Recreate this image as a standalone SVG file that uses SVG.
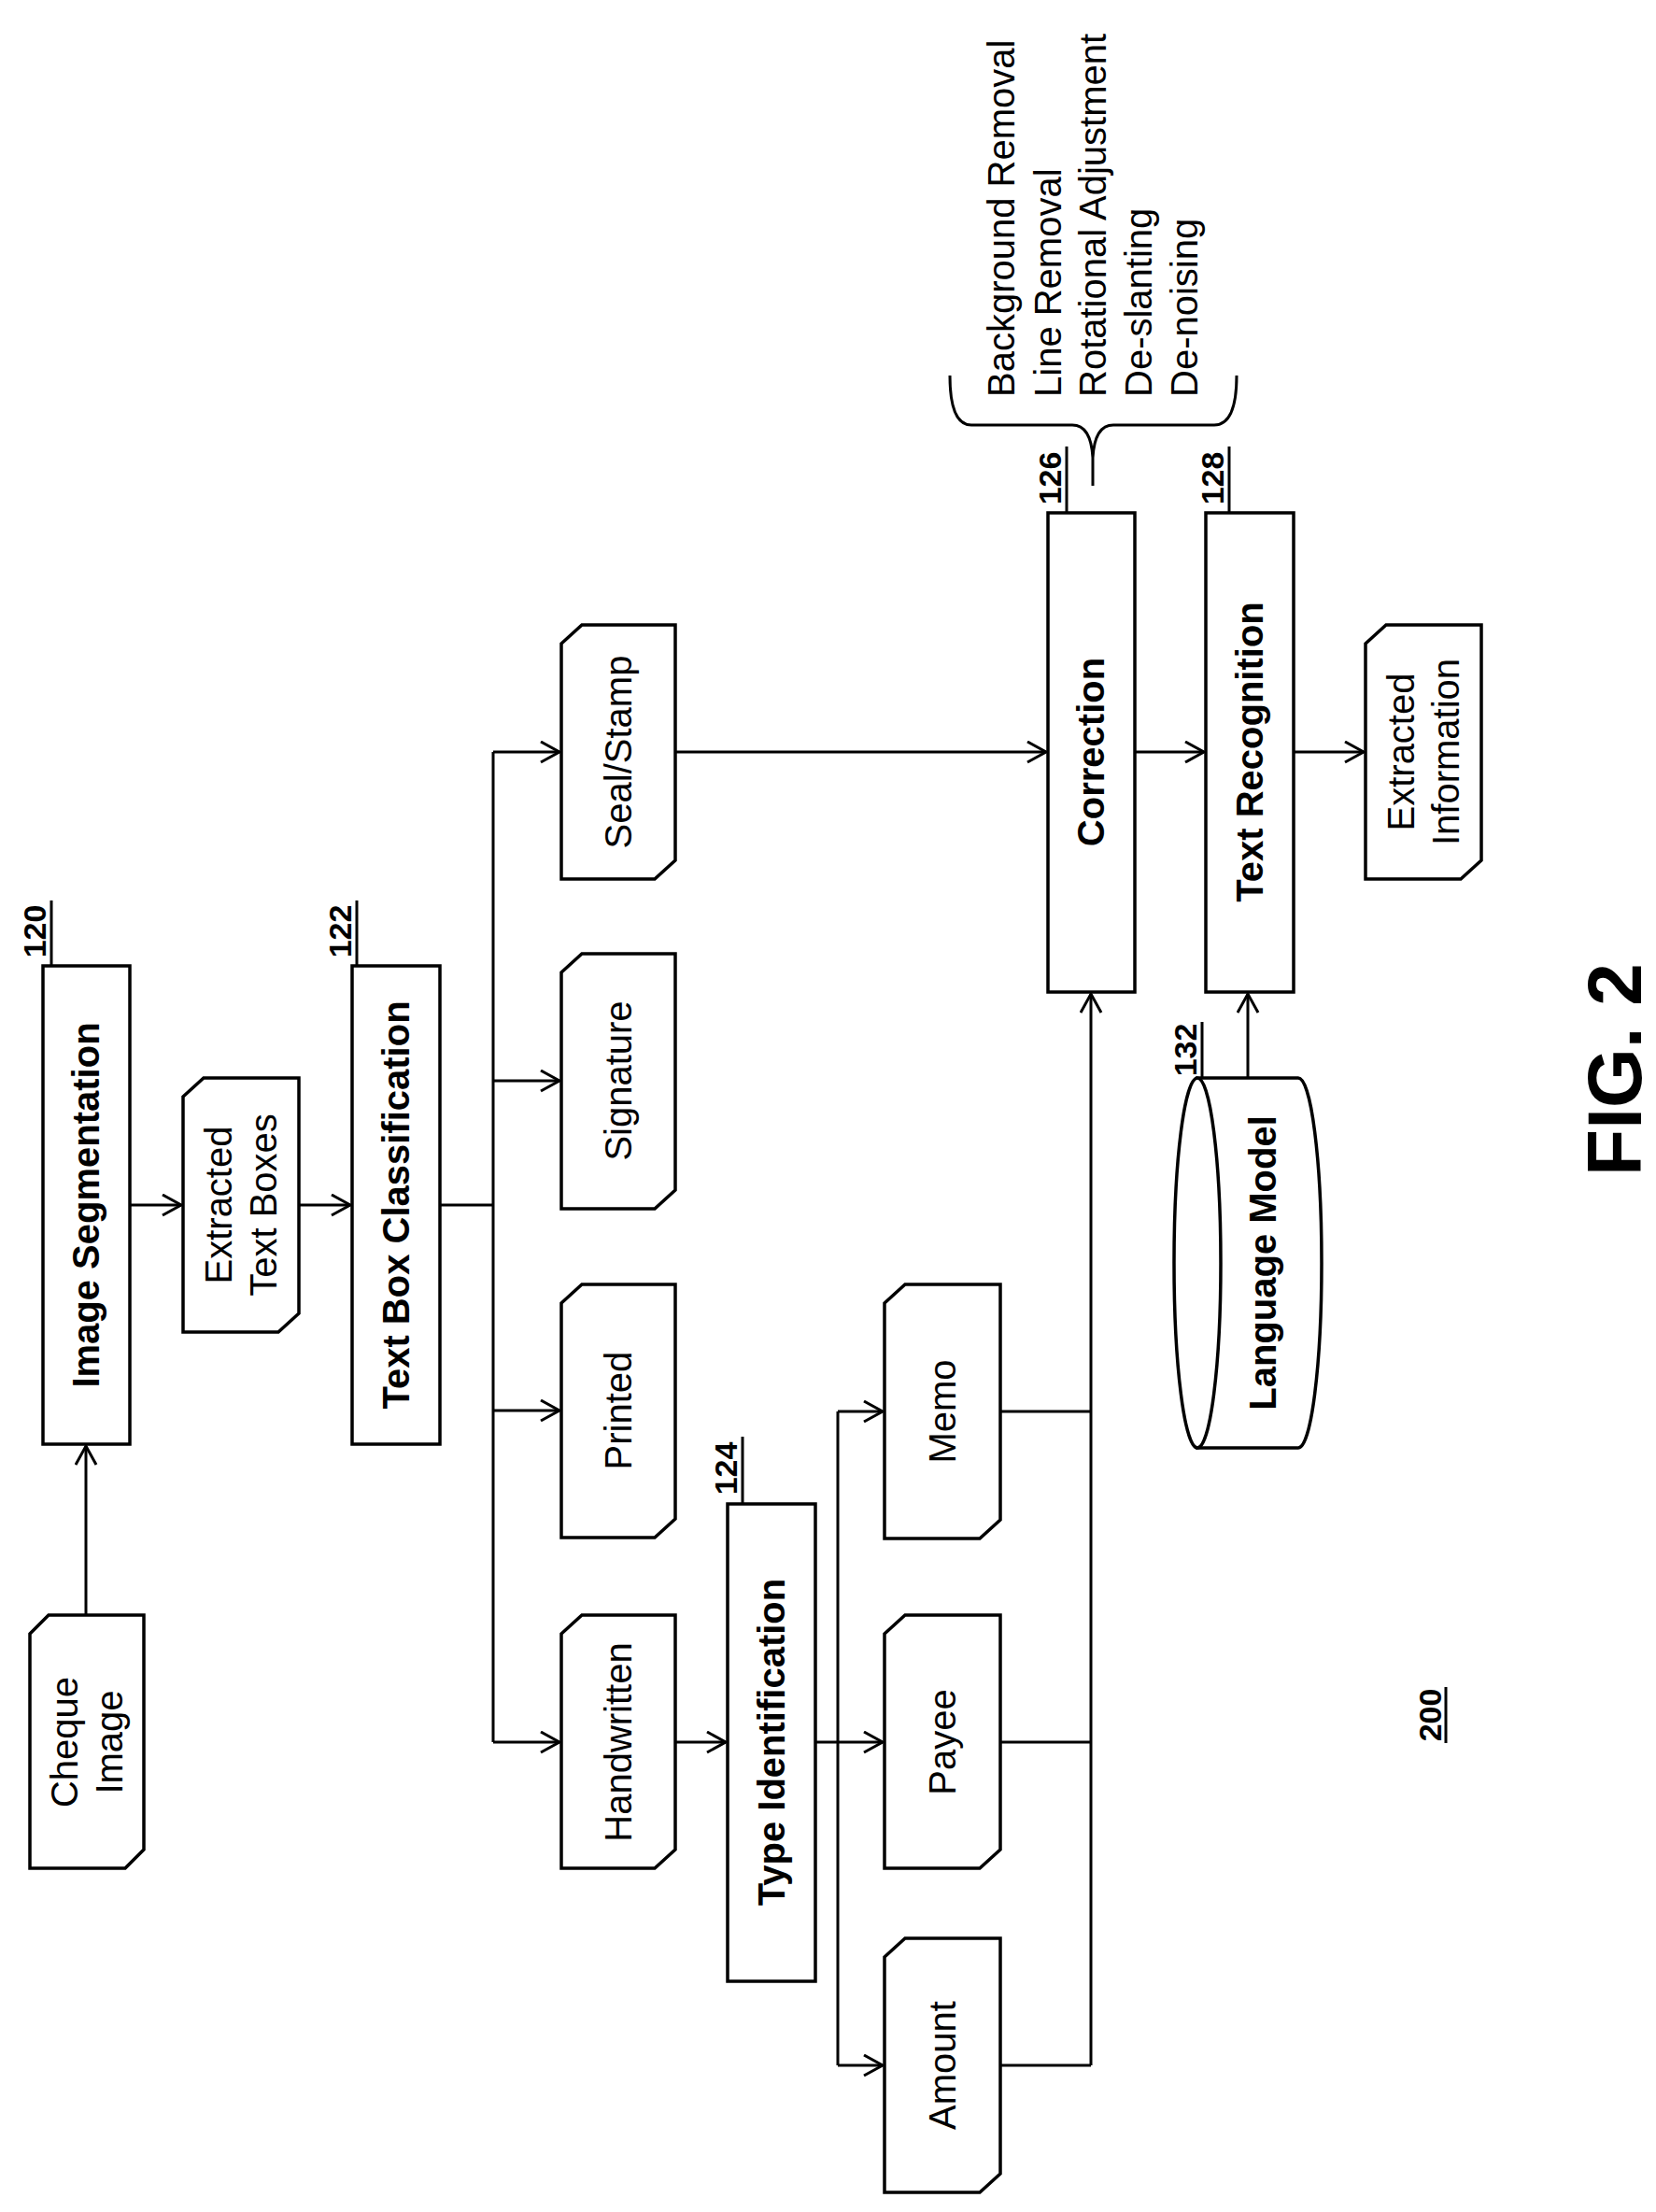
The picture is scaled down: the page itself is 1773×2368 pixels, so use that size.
<svg xmlns="http://www.w3.org/2000/svg" width="1773" height="2368" viewBox="0 0 1773 2368">
<defs>
<marker id="arr" markerUnits="userSpaceOnUse" markerWidth="30" markerHeight="30" refX="22" refY="12" orient="auto"><path d="M2,1 L22,12 L2,23" fill="none" stroke="#000" stroke-width="3"/></marker>
<style>
.s{fill:#fff;stroke:#000;stroke-width:3.5}
.c{fill:none;stroke:#000;stroke-width:3}
text{font-family:"Liberation Sans",Arial,sans-serif;font-size:40px;fill:#000}
.b{font-weight:bold}
.m{text-anchor:middle;dominant-baseline:central}
.n{font-weight:bold;font-size:34px;text-anchor:middle}
</style>
</defs>
<rect width="1773" height="2368" fill="#fff"/>
<g id="connectors" class="c">
<path d="M92,1729 L92,1548" marker-end="url(#arr)"/>
<path d="M139,1290 L194,1290" marker-end="url(#arr)"/>
<path d="M320,1290 L375,1290" marker-end="url(#arr)"/>
<path d="M471,1290 L528,1290"/>
<path d="M528,805 L528,1865"/>
<path d="M528,805 L599,805" marker-end="url(#arr)"/>
<path d="M528,1157 L599,1157" marker-end="url(#arr)"/>
<path d="M528,1510 L599,1510" marker-end="url(#arr)"/>
<path d="M528,1865 L599,1865" marker-end="url(#arr)"/>
<path d="M723,1865 L777,1865" marker-end="url(#arr)"/>
<path d="M873,1865 L897,1865"/>
<path d="M897,1511 L897,2211"/>
<path d="M897,1511 L945,1511" marker-end="url(#arr)"/>
<path d="M897,1865 L945,1865" marker-end="url(#arr)"/>
<path d="M897,2211 L945,2211" marker-end="url(#arr)"/>
<path d="M1071,1511 L1168,1511"/>
<path d="M1071,1865 L1168,1865"/>
<path d="M1071,2211 L1168,2211"/>
<path d="M1168,2211 L1168,1064" marker-end="url(#arr)"/>
<path d="M723,805 L1120,805" marker-end="url(#arr)"/>
<path d="M1215,805 L1289,805" marker-end="url(#arr)"/>
<path d="M1385,805 L1460,805" marker-end="url(#arr)"/>
<path d="M1336,1154 L1336,1064" marker-end="url(#arr)"/>
<path d="M55,964 L55,1034"/>
<path d="M382,964 L382,1034"/>
<path d="M795,1538 L795,1610"/>
<path d="M1142,478 L1142,549"/>
<path d="M1316,478 L1316,549"/>
<path d="M1287,1094 L1287,1158"/>
<path d="M1017,402 Q1017,455 1040,455 L1148,455 Q1168,455 1170,490 Q1172,455 1192,455 L1300,455 Q1324,455 1324,402"/>
<path d="M1170,490 L1170,520"/>
</g>
<g id="cheque"><polygon class="s" points="32,1749 52,1729 154,1729 154,1980 134,2000 32,2000"/><text class="m" transform="translate(93,1865) rotate(-90)"><tspan x="0" dy="-24">Cheque</tspan><tspan x="0" dy="48">Image</tspan></text></g>
<g id="imgseg"><rect class="s" x="46" y="1034" width="93" height="512"/><text class="m b" transform="translate(92,1290) rotate(-90)">Image Segmentation</text><text class="n" transform="translate(49,997) rotate(-90)">120</text></g>
<g id="extracted"><polygon class="s" points="196,1174 218,1154 320,1154 320,1406 298,1426 196,1426"/><text class="m" transform="translate(258,1290) rotate(-90)"><tspan x="0" dy="-24">Extracted</tspan><tspan x="0" dy="48">Text Boxes</tspan></text></g>
<g id="tbc"><rect class="s" x="377" y="1034" width="94" height="512"/><text class="m b" transform="translate(424,1290) rotate(-90)">Text Box Classification</text><text class="n" transform="translate(376,997) rotate(-90)">122</text></g>
<g id="seal"><polygon class="s" points="601,689 623,669 723,669 723,921 701,941 601,941"/><text class="m" transform="translate(662,805) rotate(-90)">Seal/Stamp</text></g>
<g id="signature"><polygon class="s" points="601,1041 623,1021 723,1021 723,1274 701,1294 601,1294"/><text class="m" transform="translate(662,1157) rotate(-90)">Signature</text></g>
<g id="printed"><polygon class="s" points="601,1395 623,1375 723,1375 723,1626 701,1646 601,1646"/><text class="m" transform="translate(662,1510) rotate(-90)">Printed</text></g>
<g id="handwritten"><polygon class="s" points="601,1749 623,1729 723,1729 723,1980 701,2000 601,2000"/><text class="m" transform="translate(662,1865) rotate(-90)">Handwritten</text></g>
<g id="typeid"><rect class="s" x="779" y="1610" width="94" height="511"/><text class="m b" transform="translate(826,1865) rotate(-90)">Type Identification</text><text class="n" transform="translate(789,1572) rotate(-90)">124</text></g>
<g id="memo"><polygon class="s" points="947,1395 969,1375 1071,1375 1071,1627 1049,1647 947,1647"/><text class="m" transform="translate(1009,1511) rotate(-90)">Memo</text></g>
<g id="payee"><polygon class="s" points="947,1749 969,1729 1071,1729 1071,1980 1049,2000 947,2000"/><text class="m" transform="translate(1009,1865) rotate(-90)">Payee</text></g>
<g id="amount"><polygon class="s" points="947,2095 969,2075 1071,2075 1071,2327 1049,2347 947,2347"/><text class="m" transform="translate(1009,2211) rotate(-90)">Amount</text></g>
<g id="correction"><rect class="s" x="1122" y="549" width="93" height="513"/><text class="m b" transform="translate(1168,805) rotate(-90)">Correction</text><text class="n" transform="translate(1136,512) rotate(-90)">126</text></g>
<g id="textrec"><rect class="s" x="1291" y="549" width="94" height="513"/><text class="m b" transform="translate(1338,805) rotate(-90)">Text Recognition</text><text class="n" transform="translate(1310,512) rotate(-90)">128</text></g>
<g id="extractedinfo"><polygon class="s" points="1462,689 1484,669 1586,669 1586,921 1564,941 1462,941"/><text class="m" transform="translate(1524,805) rotate(-90)"><tspan x="0" dy="-24">Extracted</tspan><tspan x="0" dy="48">Information</tspan></text></g>
<g id="langmodel"><path class="s" d="M1282,1154 L1390,1154 A25,198 0 0 1 1390,1550 L1282,1550 Z"/><ellipse class="s" cx="1282" cy="1352" rx="25" ry="198"/><text class="m b" transform="translate(1352,1352) rotate(-90)">Language Model</text><text class="n" transform="translate(1281,1124) rotate(-90)">132</text></g>
<g id="list">
<text transform="translate(1086,425) rotate(-90)">Background Removal</text>
<text transform="translate(1136,425) rotate(-90)">Line Removal</text>
<text transform="translate(1184,425) rotate(-90)">Rotational Adjustment</text>
<text transform="translate(1233,425) rotate(-90)">De-slanting</text>
<text transform="translate(1282,425) rotate(-90)">De-noising</text>
</g>
<g id="ref200"><text class="n" transform="translate(1543,1836) rotate(-90)">200</text><line x1="1548" y1="1806" x2="1548" y2="1866" stroke="#000" stroke-width="3"/></g>
<g id="fig"><text class="b" text-anchor="middle" font-size="82" style="font-size:82px" transform="translate(1757,1145) rotate(-90)">FIG. 2</text></g>
</svg>
